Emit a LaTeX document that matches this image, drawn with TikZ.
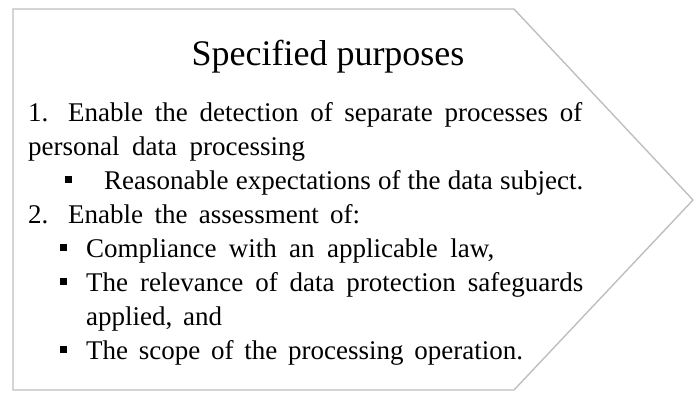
\documentclass[tikz,border=0pt]{standalone}
\usepackage{fontspec}
\setmainfont{Liberation Serif}
\begin{document}
\begin{tikzpicture}[x=1pt,y=-1pt,
  outline/.style={draw=black!25,line width=1.4pt,fill=white,line join=miter},
  titletext/.style={font=\fontsize{36}{40}\selectfont,inner sep=0pt,anchor=base},
  bodytext/.style={font=\fontsize{27}{32}\selectfont,inner sep=0pt,anchor=base west},
  sq/.style={fill=black,minimum size=7pt,inner sep=0pt}]
\useasboundingbox (0,0) rectangle (694,392);
% chevron panel
\draw[outline] (13,9) -- (514,9) -- (693,200) -- (514,390) -- (13,390) -- cycle;
% heading
\node[titletext] (title) at (328,65) {Specified purposes};
% item 1
\node[bodytext] (n1) at (28,121) {1.};
\node[bodytext] (l1) at (68,121) {\makebox[514pt][s]{Enable the detection of separate processes of}};
\node[bodytext] (l2) at (28,155) {\makebox[277pt][s]{personal data processing}};
\node[sq] (b1) at (68.5,179) {};
\node[bodytext] (l3) at (104,189) {\makebox[479pt][s]{Reasonable expectations of the data subject.}};
% item 2
\node[bodytext] (n2) at (28,223) {2.};
\node[bodytext] (l4) at (68,223) {\makebox[292pt][s]{Enable the assessment of:}};
\node[sq] (b2) at (63,247) {};
\node[bodytext] (l5) at (86,257) {\makebox[408pt][s]{Compliance with an applicable law,}};
\node[sq] (b3) at (63,281) {};
\node[bodytext] (l6) at (86,291) {\makebox[497pt][s]{The relevance of data protection safeguards}};
\node[bodytext] (l7) at (86,325) {\makebox[136pt][s]{applied, and}};
\node[sq] (b4) at (63,349) {};
\node[bodytext] (l8) at (86,359) {\makebox[437pt][s]{The scope of the processing operation.}};
\end{tikzpicture}
\end{document}
